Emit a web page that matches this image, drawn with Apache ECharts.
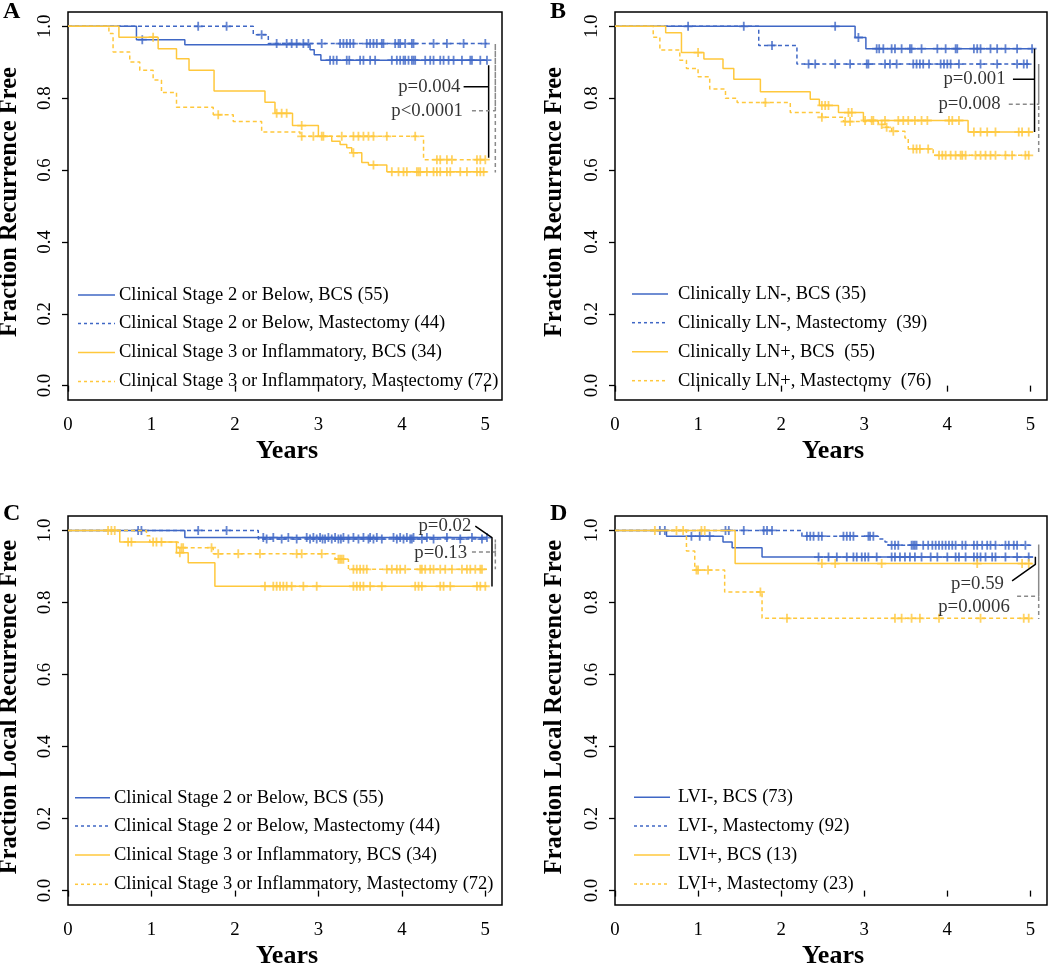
<!DOCTYPE html>
<html><head><meta charset="utf-8">
<script src="https://cdn.jsdelivr.net/npm/echarts@6/dist/echarts.min.js"></script>
<style>html,body{margin:0;padding:0;background:#fff}#c{width:1050px;height:964px}</style>
</head><body><div id="c"></div>
<script>
// ---------- DATA ----------
const xTicks = [0, 1, 2, 3, 4, 5];
const yTicks = [0, 0.2, 0.4, 0.6, 0.8, 1.0];
const panelLetters = ['A', 'B', 'C', 'D'];
const xTitle = 'Years';
const yTitles = ['Fraction Recurrence Free', 'Fraction Recurrence Free', 'Fraction Local Recurrence Free', 'Fraction Local Recurrence Free'];

const aNames = ['Clinical Stage 2 or Below, BCS (55)', 'Clinical Stage 2 or Below, Mastectomy (44)', 'Clinical Stage 3 or Inflammatory, BCS (34)', 'Clinical Stage 3 or Inflammatory, Mastectomy (72)'];
const bNames = ['Clinically LN-, BCS (35)', 'Clinically LN-, Mastectomy  (39)', 'Clinically LN+, BCS  (55)', 'Clinically LN+, Mastectomy  (76)'];
const cNames = aNames.slice();
const dNames = ['LVI-, BCS (73)', 'LVI-, Mastectomy (92)', 'LVI+, BCS (13)', 'LVI+, Mastectomy (23)'];

// Panel A
const aBlueBcsT = [0, 0.82, 1.40, 2.90, 2.95, 3.03, 5.02];
const aBlueBcsS = [1, 0.963, 0.949, 0.935, 0.921, 0.906, 0.906];
const aBlueBcsC = [0.89, 3.14, 3.18, 3.22, 3.34, 3.37, 3.5, 3.54, 3.62, 3.68, 3.88, 3.94, 3.98, 4.02, 4.04, 4.08, 4.12, 4.14, 4.16, 4.28, 4.34, 4.38, 4.46, 4.5, 4.56, 4.62, 4.72, 4.82, 4.84, 4.94, 5.02];
const aBlueMasT = [0, 2.22, 2.40, 5.02];
const aBlueMasS = [1, 0.977, 0.952, 0.952];
const aBlueMasC = [1.56, 1.90, 2.32, 2.5, 2.62, 2.68, 2.74, 2.82, 2.88, 3.04, 3.26, 3.3, 3.34, 3.38, 3.42, 3.58, 3.62, 3.66, 3.7, 3.76, 3.78, 3.92, 3.96, 3.98, 4.04, 4.12, 4.14, 4.38, 4.54, 4.74, 5.0];
const aYelBcsT = [0, 0.61, 1.08, 1.30, 1.45, 1.75, 2.36, 2.48, 2.69, 3.00, 3.16, 3.26, 3.34, 3.40, 3.52, 3.60, 3.82, 5.02];
const aYelBcsS = [1, 0.970, 0.938, 0.910, 0.878, 0.820, 0.789, 0.758, 0.724, 0.694, 0.680, 0.671, 0.662, 0.648, 0.621, 0.614, 0.595, 0.595];
const aYelBcsC = [1.02, 2.5, 2.56, 2.62, 2.8, 3.06, 3.42, 3.66, 3.88, 3.96, 4.02, 4.06, 4.18, 4.2, 4.22, 4.3, 4.38, 4.42, 4.46, 4.54, 4.58, 4.7, 4.78, 4.9, 4.94, 4.98];
const aYelMasT = [0, 0.49, 0.54, 0.74, 0.86, 1.02, 1.12, 1.30, 1.74, 1.98, 2.32, 2.78, 4.26, 5.02];
const aYelMasS = [1, 0.98, 0.929, 0.901, 0.878, 0.851, 0.816, 0.775, 0.754, 0.735, 0.706, 0.694, 0.629, 0.629];
const aYelMasC = [1.8, 2.8, 2.94, 3.04, 3.28, 3.42, 3.48, 3.54, 3.6, 3.66, 3.82, 4.16, 4.42, 4.46, 4.54, 4.6, 4.9, 4.94, 5.0];
const aPTexts = ['p=0.004', 'p<0.0001'];
const aPTextAt = [[4.72, 0.832], [4.75, 0.763]];
const aPSolid = [[4.74, 0.832], [5.04, 0.832], [5.04, 0.892], [5.04, 0.634]];
const aPDash = [[4.84, 0.765], [5.12, 0.765], [5.12, 0.952], [5.12, 0.593]];

// Panel B
const bBlueBcsT = [0, 2.89, 3.02, 5.03];
const bBlueBcsS = [1, 0.969, 0.938, 0.938];
const bBlueBcsC = [0.88, 1.55, 2.65, 2.93, 3.15, 3.18, 3.23, 3.33, 3.37, 3.45, 3.55, 3.57, 3.69, 3.88, 3.98, 4.10, 4.12, 4.32, 4.36, 4.40, 4.52, 4.60, 4.70, 4.84, 5.02];
const bBlueMasT = [0, 1.73, 2.19, 5.02];
const bBlueMasS = [1, 0.947, 0.895, 0.895];
const bBlueMasC = [1.89, 2.33, 2.41, 2.65, 2.83, 3.03, 3.05, 3.25, 3.31, 3.39, 3.59, 3.63, 3.67, 3.71, 3.78, 3.92, 3.96, 4.0, 4.04, 4.14, 4.40, 4.60, 4.84, 4.92, 4.96];
const bYelBcsT = [0, 0.61, 0.80, 1.07, 1.30, 1.43, 1.75, 2.35, 2.46, 2.69, 2.99, 4.25, 5.03];
const bYelBcsS = [1, 0.982, 0.927, 0.909, 0.883, 0.853, 0.818, 0.797, 0.780, 0.760, 0.738, 0.706, 0.706];
const bYelBcsC = [1.0, 2.49, 2.53, 2.57, 2.81, 2.85, 3.01, 3.09, 3.11, 3.25, 3.41, 3.47, 3.53, 3.61, 3.69, 3.76, 4.02, 4.06, 4.14, 4.32, 4.40, 4.48, 4.58, 4.86, 4.90, 4.98];
const bYelMasT = [0, 0.46, 0.54, 0.78, 0.86, 1.0, 1.14, 1.33, 1.47, 2.11, 2.49, 2.75, 3.17, 3.25, 3.33, 3.49, 3.53, 3.83, 5.02];
const bYelMasS = [1, 0.97, 0.934, 0.906, 0.883, 0.86, 0.826, 0.80, 0.788, 0.76, 0.747, 0.735, 0.727, 0.719, 0.708, 0.689, 0.659, 0.641, 0.641];
const bYelMasC = [1.81, 2.49, 2.77, 2.83, 3.21, 3.27, 3.35, 3.59, 3.63, 3.67, 3.77, 3.90, 3.94, 3.98, 4.04, 4.10, 4.16, 4.18, 4.22, 4.34, 4.40, 4.46, 4.52, 4.58, 4.70, 4.78, 4.94, 4.98];
const bPTexts = ['p=0.001', 'p=0.008'];
const bPTextAt = [[4.72, 0.853], [4.66, 0.783]];
const bPSolid = [[4.79, 0.853], [5.05, 0.853], [5.05, 0.938], [5.05, 0.706]];
const bPDash = [[4.74, 0.783], [5.10, 0.783], [5.10, 0.895], [5.10, 0.643]];

// Panel C
const cBlueBcsT = [0, 1.40, 5.02];
const cBlueBcsS = [1, 0.980, 0.980];
const cBlueBcsC = [0.84, 0.88, 2.34, 2.46, 2.64, 2.86, 2.94, 3.02, 3.12, 3.2, 3.3, 3.42, 3.54, 3.62, 3.7, 3.9, 3.98, 4.06, 4.14, 4.3, 4.54, 4.84, 5.02];
const cBlueMasT = [0, 2.28, 5.02];
const cBlueMasS = [1, 0.976, 0.976];
const cBlueMasC = [1.56, 1.90, 2.38, 2.56, 2.74, 2.9, 2.98, 3.05, 3.08, 3.16, 3.24, 3.27, 3.36, 3.48, 3.6, 3.66, 3.76, 3.94, 4.02, 4.1, 4.12, 4.24, 4.38, 4.7, 4.96];
const cYelBcsT = [0, 0.62, 1.30, 1.44, 1.76, 5.02];
const cYelBcsS = [1, 0.968, 0.938, 0.910, 0.845, 0.845];
const cYelBcsC = [0.48, 0.52, 0.56, 0.72, 0.76, 1.02, 1.06, 1.12, 1.34, 2.36, 2.46, 2.5, 2.54, 2.58, 2.62, 2.68, 2.82, 2.98, 3.42, 3.46, 3.5, 3.54, 3.62, 3.76, 4.16, 4.2, 4.24, 4.46, 4.5, 4.58, 4.9, 4.94, 5.0];
const cYelMasT = [0, 0.94, 0.98, 1.32, 1.74, 3.20, 3.36, 5.02];
const cYelMasS = [1, 0.985, 0.968, 0.952, 0.935, 0.920, 0.892, 0.892];
const cYelMasC = [1.36, 1.38, 1.72, 1.8, 2.04, 2.3, 2.74, 2.8, 3.04, 3.24, 3.26, 3.28, 3.3, 3.42, 3.46, 3.5, 3.54, 3.58, 3.82, 3.88, 3.94, 3.98, 4.04, 4.22, 4.24, 4.28, 4.34, 4.38, 4.46, 4.52, 4.6, 4.72, 4.78, 4.82, 4.88, 4.94, 4.96];
const cPTexts = ['p=0.02', 'p=0.13'];
const cPTextAt = [[4.85, 1.012], [4.80, 0.936]];
const cPSolid = [[4.88, 1.012], [5.08, 0.98], [5.08, 0.844]];
const cPDash = [[4.84, 0.940], [5.12, 0.940], [5.12, 0.975], [5.12, 0.892]];

// Panel D
const dBlueBcsT = [0, 0.62, 1.30, 1.41, 1.77, 5.03];
const dBlueBcsS = [1, 0.984, 0.968, 0.952, 0.926, 0.926];
const dBlueBcsC = [0.54, 0.60, 0.92, 1.02, 1.14, 2.45, 2.57, 2.67, 2.79, 2.87, 2.91, 2.97, 3.01, 3.05, 3.15, 3.33, 3.37, 3.43, 3.49, 3.55, 3.61, 3.69, 3.80, 3.88, 4.0, 4.10, 4.14, 4.22, 4.32, 4.36, 4.40, 4.46, 4.54, 4.58, 4.70, 4.84, 4.98];
const dBlueMasT = [0, 2.25, 3.17, 3.25, 3.29, 5.02];
const dBlueMasS = [1, 0.984, 0.976, 0.968, 0.959, 0.959];
const dBlueMasC = [1.33, 1.37, 1.55, 1.79, 1.83, 1.89, 2.31, 2.35, 2.39, 2.45, 2.49, 2.75, 2.79, 2.83, 2.87, 3.05, 3.07, 3.11, 3.33, 3.37, 3.41, 3.57, 3.59, 3.61, 3.63, 3.71, 3.77, 3.82, 3.86, 3.90, 3.94, 3.98, 4.02, 4.06, 4.10, 4.18, 4.22, 4.32, 4.36, 4.42, 4.48, 4.52, 4.58, 4.70, 4.74, 4.80, 4.84, 4.94];
const dYelBcsT = [0, 1.446, 5.02];
const dYelBcsS = [1, 0.908, 0.908];
const dYelBcsC = [0.48, 0.74, 0.82, 1.04, 1.08, 2.49, 2.65, 3.21, 4.36, 4.90, 4.98];
const dYelMasT = [0, 0.86, 0.96, 1.32, 1.77, 5.02];
const dYelMasS = [1, 0.943, 0.890, 0.829, 0.756, 0.756];
const dYelMasC = [0.98, 1.0, 1.12, 1.75, 2.07, 3.37, 3.45, 3.57, 3.67, 3.90, 4.40, 4.92, 4.98];
const dPTexts = ['p=0.59', 'p=0.0006'];
const dPTextAt = [[4.70, 0.851], [4.77, 0.786]];
const dPSolid = [[4.78, 0.86], [5.06, 0.906], [5.06, 0.927]];
const dPDash = [[4.84, 0.817], [5.10, 0.817], [5.10, 0.961], [5.10, 0.754]];

// ---------- STYLE / LAYOUT ----------
const FONT = '"Liberation Serif", "Times New Roman", "DejaVu Serif", serif';
const BLUE = '#3F67C5', YEL = '#FFC83C';
const DASH = [4, 3];
const PLUS = 'path://M3.6,0H5.4V9H3.6Z M0,3.6H9V5.4H0Z';
const FS = 18.8;
const LEG_FS = 18.5;

const grids = [
  {left: 68, top: 12, width: 434, height: 388},
  {left: 615, top: 12, width: 432, height: 388},
  {left: 68, top: 516, width: 434, height: 389},
  {left: 615, top: 516, width: 432, height: 389}
];

const panels = [
  {names: aNames, curves: [[aBlueBcsT, aBlueBcsS, aBlueBcsC], [aBlueMasT, aBlueMasS, aBlueMasC], [aYelBcsT, aYelBcsS, aYelBcsC], [aYelMasT, aYelMasS, aYelMasC]], pt: aPTexts, pat: aPTextAt, ps: aPSolid, pd: aPDash},
  {names: bNames, curves: [[bBlueBcsT, bBlueBcsS, bBlueBcsC], [bBlueMasT, bBlueMasS, bBlueMasC], [bYelBcsT, bYelBcsS, bYelBcsC], [bYelMasT, bYelMasS, bYelMasC]], pt: bPTexts, pat: bPTextAt, ps: bPSolid, pd: bPDash},
  {names: cNames, curves: [[cBlueBcsT, cBlueBcsS, cBlueBcsC], [cBlueMasT, cBlueMasS, cBlueMasC], [cYelBcsT, cYelBcsS, cYelBcsC], [cYelMasT, cYelMasS, cYelMasC]], pt: cPTexts, pat: cPTextAt, ps: cPSolid, pd: cPDash},
  {names: dNames, curves: [[dBlueBcsT, dBlueBcsS, dBlueBcsC], [dBlueMasT, dBlueMasS, dBlueMasC], [dYelBcsT, dYelBcsS, dYelBcsC], [dYelMasT, dYelMasS, dYelMasC]], pt: dPTexts, pat: dPTextAt, ps: dPSolid, pd: dPDash}
];
const curveStyle = [
  {color: BLUE, type: 'solid'}, {color: BLUE, type: DASH},
  {color: YEL, type: 'solid'}, {color: YEL, type: DASH}
];

// legend layout per panel: [lineX1, lineX2, textX, rowYs]
const legendLayout = [
  [78, 115, 119, [295, 323.5, 352.5, 381.5]],
  [632, 668, 678, [294, 322.7, 351.7, 380.7]],
  [75, 110, 114, [797.7, 826, 855, 884.3]],
  [634, 670, 678, [797.3, 826, 855, 884]]
];
const letterPos = [[3, 12], [550, 12], [3, 513.6], [550, 513.6]];
const yTitlePos = [[10, 202], [555, 202], [10, 707], [555, 707]];
const xTitlePos = [[287, 451], [833, 451], [287, 956], [833, 956]];

function stepAt(T, S, t) {
  let v = S[0];
  for (let i = 0; i < T.length; i++) { if (T[i] <= t + 1e-9) v = S[i]; else break; }
  return v;
}

const xAxes = [], yAxes = [], series = [], graphics = [];
grids.forEach((g, i) => {
  g.show = true; g.borderColor = '#000'; g.borderWidth = 1.5; g.backgroundColor = 'transparent';
  xAxes.push({
    type: 'value', gridIndex: i, min: 0, max: 5.2, interval: 1,
    axisLine: {show: false}, splitLine: {show: false},
    axisTick: {show: true, length: 6, customValues: xTicks, lineStyle: {color: '#000', width: 1.3}},
    axisLabel: {customValues: xTicks, fontSize: FS, fontFamily: FONT, color: '#000', margin: 16, formatter: v => String(v)}
  });
  yAxes.push({
    type: 'value', gridIndex: i, min: -0.04, max: 1.04,
    axisLine: {show: false}, splitLine: {show: false},
    axisTick: {show: true, length: 6, customValues: yTicks, lineStyle: {color: '#000', width: 1.3}},
    axisLabel: {customValues: yTicks, rotate: 90, fontSize: FS, fontFamily: FONT, color: '#000', margin: 13, formatter: v => v.toFixed(1)}
  });
});

panels.forEach((p, i) => {
  p.curves.forEach((c, k) => {
    const [T, S, C] = c;
    const st = curveStyle[k];
    series.push({
      type: 'line', name: p.names[k], xAxisIndex: i, yAxisIndex: i, step: 'end',
      data: T.map((t, j) => [t, S[j]]), symbol: 'none', showSymbol: false, silent: true,
      lineStyle: {color: st.color, width: 1.5, type: st.type}, z: 2 + k
    });
    series.push({
      type: 'scatter', name: p.names[k] + ' censored', xAxisIndex: i, yAxisIndex: i,
      data: C.map(t => [t, stepAt(T, S, t)]), symbol: PLUS, symbolSize: 9, silent: true,
      itemStyle: {color: st.color}, z: 2 + k
    });
  });
  series.push({
    type: 'line', xAxisIndex: i, yAxisIndex: i, data: p.ps, symbol: 'none', silent: true,
    lineStyle: {color: '#000', width: 1.5, type: 'solid'}, z: 10
  });
  series.push({
    type: 'line', xAxisIndex: i, yAxisIndex: i, data: p.pd, symbol: 'none', silent: true,
    lineStyle: {color: '#8a8a8a', width: 1.5, type: DASH}, z: 10
  });
  series.push({
    type: 'scatter', xAxisIndex: i, yAxisIndex: i, silent: true, symbolSize: 1,
    itemStyle: {color: 'rgba(0,0,0,0)'}, z: 11,
    data: p.pat.map((pt, j) => ({value: pt, label: {formatter: p.pt[j]}})),
    label: {show: true, position: 'left', distance: 1, fontSize: FS, fontFamily: FONT, color: '#000'}
  });

  // legend (drawn as graphic)
  const L = legendLayout[i];
  p.names.forEach((nm, k) => {
    const st = curveStyle[k];
    graphics.push({type: 'line', shape: {x1: L[0], y1: L[3][k], x2: L[1], y2: L[3][k]},
      style: {stroke: st.color, lineWidth: 1.5, lineDash: st.type === 'solid' ? null : [3, 3]}, silent: true});
    graphics.push({type: 'text', x: L[2], y: L[3][k], silent: true,
      style: {text: nm, font: LEG_FS + 'px ' + FONT, fill: '#000', align: 'left', verticalAlign: 'middle', textAlign: 'left', textVerticalAlign: 'middle'}});
  });
  graphics.push({type: 'text', x: letterPos[i][0], y: letterPos[i][1], silent: true,
    style: {text: panelLetters[i], font: 'bold 24px ' + FONT, fill: '#000', align: 'left', verticalAlign: 'middle', textAlign: 'left', textVerticalAlign: 'middle'}});
  graphics.push({type: 'text', x: yTitlePos[i][0], y: yTitlePos[i][1], rotation: Math.PI / 2, silent: true,
    style: {text: yTitles[i], font: 'bold 24.5px ' + FONT, fill: '#000', align: 'center', verticalAlign: 'middle', textAlign: 'center', textVerticalAlign: 'middle'}});
  graphics.push({type: 'text', x: xTitlePos[i][0], y: xTitlePos[i][1], silent: true,
    style: {text: xTitle, font: 'bold 26px ' + FONT, fill: '#000', align: 'center', verticalAlign: 'middle', textAlign: 'center', textVerticalAlign: 'middle'}});
});

const chart = echarts.init(document.getElementById('c'), null, {renderer: 'canvas'});
chart.setOption({
  animation: false,
  backgroundColor: '#fff',
  grid: grids,
  xAxis: xAxes,
  yAxis: yAxes,
  series: series,
  graphic: graphics
});
</script></body></html>
